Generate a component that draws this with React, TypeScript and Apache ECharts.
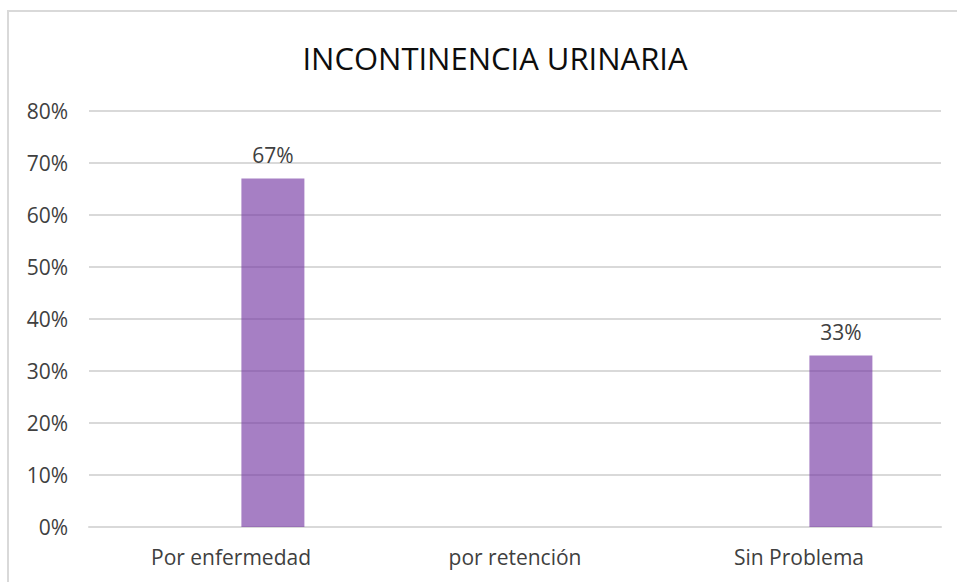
import React, { useEffect, useRef } from "react";
import * as echarts from "echarts";

const titleText = "INCONTINENCIA URINARIA";
const categories = ["Por enfermedad", "por retención", "Sin Problema"];
const emptySeries: (number | null)[] = [null, null, null];
const values: (number | null)[] = [67, null, 33];
const yTicks = [0, 10, 20, 30, 40, 50, 60, 70, 80];

export default function App() {
  const ref = useRef<HTMLDivElement>(null);
  useEffect(() => {
    if (!ref.current) return;
    const chart = echarts.init(ref.current, undefined, { renderer: "svg" });
    const font = "'Open Sans', 'Liberation Sans', sans-serif";
    chart.setOption({
      animation: false,
      backgroundColor: "#ffffff",
      textStyle: { fontFamily: font },
      title: {
        text: titleText,
        left: 490,
        top: 37,
        textAlign: "center",
        textStyle: { fontFamily: font, fontSize: 31, fontWeight: "normal", color: "#0d0d0d" },
      },
      graphic: [
        {
          type: "rect",
          shape: { x: 8, y: 11, width: 980, height: 600 },
          style: { fill: "none", stroke: "#D9D9D9", lineWidth: 2 },
          silent: true,
        },
      ],
      grid: { left: 89, right: 16, top: 111, bottom: 55, containLabel: false },
      xAxis: {
        type: "category",
        data: categories,
        axisLine: { show: true, lineStyle: { color: "#D9D9D9", width: 2 } },
        axisTick: { show: false },
        axisLabel: { color: "#404040", fontSize: 21, fontFamily: font, margin: 19 },
      },
      yAxis: {
        type: "value",
        min: yTicks[0],
        max: yTicks[yTicks.length - 1],
        interval: 10,
        axisLine: { show: false },
        axisTick: { show: false },
        axisLabel: { color: "#404040", fontSize: 21, fontFamily: font, margin: 21, formatter: "{value}%" },
        splitLine: { lineStyle: { color: "#D9D9D9", width: 2 } },
      },
      series: [
        {
          type: "bar",
          name: "",
          data: emptySeries,
          barWidth: 63,
          barGap: "33%",
          itemStyle: { color: "rgba(112,48,160,0.62)" },
          label: { show: false },
        },
        {
          type: "bar",
          name: "Incontinencia",
          data: values,
          barWidth: 63,
          barGap: "33%",
          itemStyle: { color: "rgba(112,48,160,0.62)" },
          label: {
            show: true,
            position: "top",
            distance: 13,
            formatter: "{c}%",
            color: "#404040",
            fontSize: 21,
            fontFamily: font,
          },
        },
      ],
    });
    return () => chart.dispose();
  }, []);
  return (
    <div
      ref={ref}
      style={{ position: "fixed", left: 0, top: 0, width: 957, height: 582 }}
    />
  );
}
